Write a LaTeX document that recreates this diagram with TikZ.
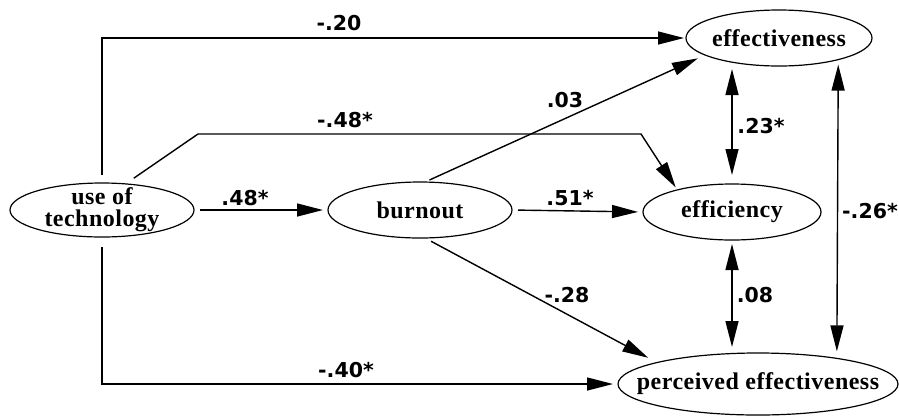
\documentclass[tikz,border=0pt]{standalone}
\usepackage{fontspec}
\setmainfont{Liberation Serif}[LetterSpace=2]
\newfontfamily\coeffont{DejaVu Sans}
\usetikzlibrary{arrows.meta,shapes.geometric}

\tikzset{
  var/.style={ellipse, draw, line width=1.2pt, inner sep=0pt, outer sep=0pt},
  vartext/.style={font=\fontsize{24}{22}\selectfont\bfseries, align=center, inner sep=0pt},
  path/.style={line width=1.4pt, -{Triangle[length=26pt,width=13pt]}},
  corr/.style={line width=1.4pt, {Triangle[length=26pt,width=13pt]}-{Triangle[length=26pt,width=13pt]}},
  coef/.style={font=\coeffont\fontsize{20.5}{22}\selectfont\bfseries, inner sep=0pt}
}

\begin{document}
\begin{tikzpicture}[x=1pt, y=-1pt]
\useasboundingbox (0,0) rectangle (899,416);

% latent variables
\node[var, minimum width=184pt, minimum height=54pt,
      label={[vartext]center:use of\\technology}] (ut) at (102,210) {};
\node[var, minimum width=184pt, minimum height=56pt,
      label={[vartext]center:burnout}] (bo) at (420,210) {};
\node[var, minimum width=186pt, minimum height=56pt,
      label={[vartext]center:effectiveness}] (eff) at (779,38) {};
\node[var, minimum width=178pt, minimum height=56pt,
      label={[vartext]center:efficiency}] (effi) at (732,212) {};
\node[var, minimum width=280pt, minimum height=62pt,
      label={[vartext]center:perceived effectiveness}] (pe) at (758,384) {};

% bend points of the long use-of-technology -> efficiency path
\coordinate (k1) at (198,134);
\coordinate (k2) at (641,134);

% directed paths
\draw[path, shorten <=8pt, shorten >=2pt] (ut.north) |- (eff.west);
\draw[path, shorten <=10pt, shorten >=3pt] (ut.48) -- (k1) -- (k2) -- (effi.158);
\draw[path, shorten <=6pt, shorten >=5pt] (ut.east) -- (bo.west);
\draw[path, shorten <=5pt, shorten >=8pt] (bo.80) -- (eff.193);
\draw[path, shorten <=6pt, shorten >=5pt] (bo.east) -- (effi.west);
\draw[path, shorten <=7pt, shorten >=10pt] (bo.280) -- (pe.168);
\draw[path, shorten <=10pt, shorten >=5pt] (ut.south) |- (pe.west);

% correlations between outcomes
\draw[corr, shorten <=3pt, shorten >=9pt] (eff.south -| effi.north) -- (effi.north);
\draw[corr, shorten <=4pt, shorten >=6pt] (effi.south) -- (effi.south |- pe.north);
\draw[corr, shorten <=5pt, shorten >=7pt] (eff.-20.7) -- (pe.18);

% coefficients
\node[coef] (c1) at (339,23) {-.20};
\node[coef] (c2) at (345,120) {-.48*};
\node[coef] (c3) at (245,198) {.48*};
\node[coef] (c4) at (565,100) {.03};
\node[coef] (c5) at (570,198) {.51*};
\node[coef] (c6) at (567,295) {-.28};
\node[coef] (c7) at (346,370) {-.40*};
\node[coef] (c8) at (761,126) {.23*};
\node[coef] (c9) at (755,295) {.08};
\node[coef] (c10) at (870,211) {-.26*};
\end{tikzpicture}
\end{document}
